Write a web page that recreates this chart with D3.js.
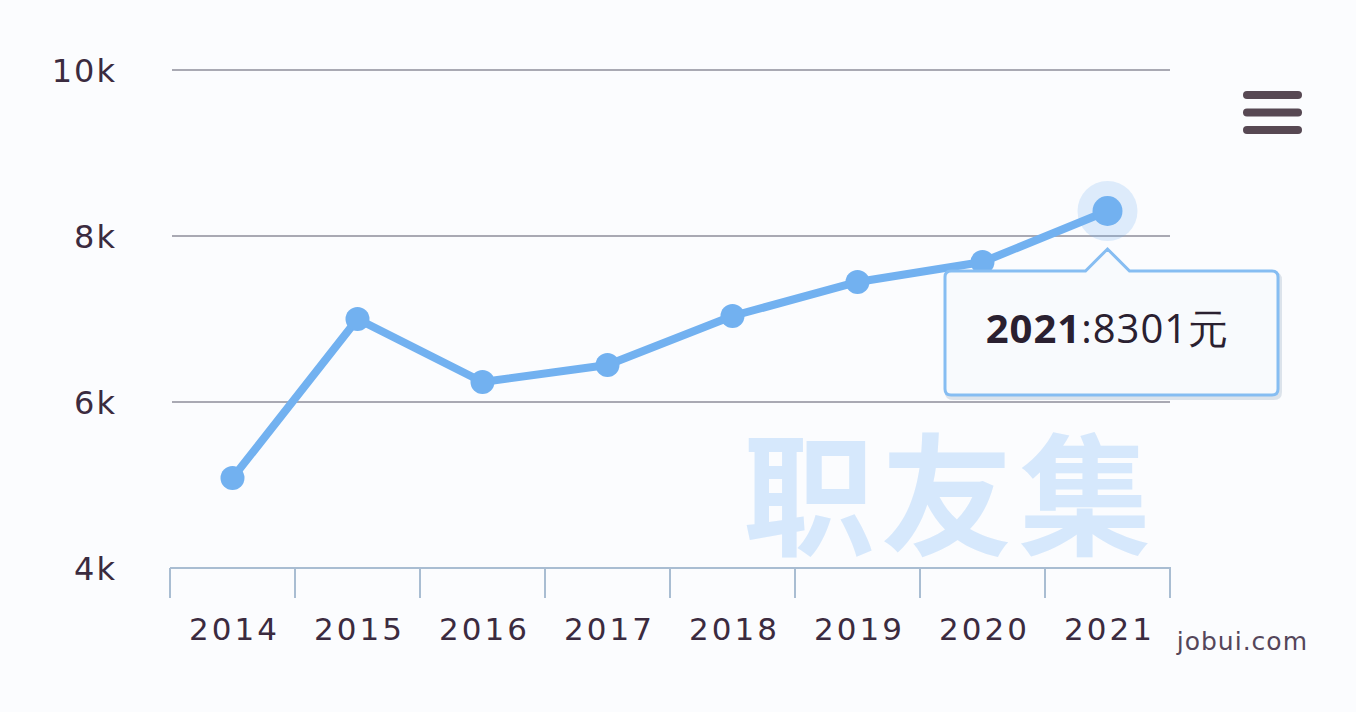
<!doctype html>
<html lang="zh">
<head>
  <meta charset="utf-8">
  <title>平均工资</title>
  <style>
    body { margin: 0; background: #fbfcfe; }
    svg { display: block; }
    .tick-label { font-family: "DejaVu Sans", Verdana, sans-serif; fill: #3b2b3f; }
  </style>
</head>
<body>
  <div id="chart"></div>
  <script src="https://cdn.jsdelivr.net/npm/d3@7"></script>
  <script>
  (function(){
    // data
    var years = ['2014', '2015', '2016', '2017', '2018', '2019', '2020', '2021'];
    var salary = [5084, 7000, 6241, 6446, 7036, 7446, 7687, 8301];
    var yTicks = [4000, 6000, 8000, 10000];
    var yTickLabels = ['4k', '6k', '8k', '10k'];

    var width = 1356, height = 712;
    var lineColor = '#72b1f0';

    var svg = d3.select('#chart').append('svg')
        .attr('width', width)
        .attr('height', height);

    svg.append('rect').attr('width', width).attr('height', height).attr('fill', '#fbfcfe');

    var x = d3.scaleBand().domain(years).range([170, 1170]);
    var y = d3.scaleLinear().domain([4000, 10000]).range([568, 70]);

    // watermark behind everything
    svg.append('text')
      .attr('x', 950).attr('y', 545)
      .attr('text-anchor', 'middle')
      .style('font-family', '"Noto Sans CJK SC", sans-serif')
      .style('font-weight', 'bold')
      .style('font-size', '132px')
      .style('letter-spacing', '6px')
      .attr('fill', '#d6e8fc')
      .text('职友集');

    // grid lines (skip the baseline, the axis draws that)
    svg.append('g').selectAll('line')
      .data(yTicks.slice(1))
      .enter().append('line')
      .attr('x1', 172).attr('x2', 1170)
      .attr('y1', function(d){ return y(d); })
      .attr('y2', function(d){ return y(d); })
      .attr('stroke', '#a9a9b3')
      .attr('stroke-width', 2);

    // y labels
    svg.append('g').selectAll('text')
      .data(yTicks)
      .enter().append('text')
      .attr('class', 'tick-label')
      .attr('x', 117)
      .attr('y', function(d){ return y(d); })
      .attr('dy', '0.36em')
      .attr('text-anchor', 'end')
      .style('font-size', '32px')
      .style('letter-spacing', '2px')
      .text(function(d, i){ return yTickLabels[i]; });

    // x axis: baseline + tick marks at band edges
    var xAxis = svg.append('g');
    xAxis.append('line')
      .attr('x1', 170).attr('x2', 1171)
      .attr('y1', y(4000)).attr('y2', y(4000))
      .attr('stroke', '#a9bdd2').attr('stroke-width', 2);
    var edges = years.map(function(d){ return x(d); }).concat([x.range()[1]]);
    xAxis.selectAll('.tick')
      .data(edges)
      .enter().append('line')
      .attr('x1', function(d){ return d; })
      .attr('x2', function(d){ return d; })
      .attr('y1', y(4000)).attr('y2', y(4000) + 30)
      .attr('stroke', '#a9bdd2').attr('stroke-width', 2);
    xAxis.selectAll('text')
      .data(years)
      .enter().append('text')
      .attr('class', 'tick-label')
      .attr('x', function(d){ return x(d) + x.bandwidth() / 2 + 2; })
      .attr('y', 640)
      .attr('text-anchor', 'middle')
      .style('font-size', '31px')
      .style('letter-spacing', '3px')
      .text(function(d){ return d; });

    // line
    var line = d3.line()
      .x(function(d, i){ return x(years[i]) + x.bandwidth() / 2; })
      .y(function(d){ return y(d); });

    svg.append('path')
      .datum(salary)
      .attr('d', line)
      .attr('fill', 'none')
      .attr('stroke', lineColor)
      .attr('stroke-width', 8)
      .attr('stroke-linejoin', 'round');

    // hover halo on last point
    var last = salary.length - 1;
    var lx = x(years[last]) + x.bandwidth() / 2, ly = y(salary[last]);
    svg.append('circle')
      .attr('cx', lx).attr('cy', ly).attr('r', 30)
      .attr('fill', lineColor).attr('opacity', 0.22);

    svg.append('g').selectAll('circle')
      .data(salary)
      .enter().append('circle')
      .attr('cx', function(d, i){ return x(years[i]) + x.bandwidth() / 2; })
      .attr('cy', function(d){ return y(d); })
      .attr('r', function(d, i){ return i === last ? 15 : 12; })
      .attr('fill', lineColor);

    // tooltip
    var tip = svg.append('g');
    var bx = 945, by = 271, bw = 333, bh = 124, r = 6;
    var tipPath = 'M' + (bx + r) + ',' + by +
      'H' + (lx - 22) + 'L' + lx + ',' + (by - 22) + 'L' + (lx + 22) + ',' + by +
      'H' + (bx + bw - r) + 'Q' + (bx + bw) + ',' + by + ' ' + (bx + bw) + ',' + (by + r) +
      'V' + (by + bh - r) + 'Q' + (bx + bw) + ',' + (by + bh) + ' ' + (bx + bw - r) + ',' + (by + bh) +
      'H' + (bx + r) + 'Q' + bx + ',' + (by + bh) + ' ' + bx + ',' + (by + bh - r) +
      'V' + (by + r) + 'Q' + bx + ',' + by + ' ' + (bx + r) + ',' + by + 'Z';
    tip.append('path')
      .attr('d', tipPath)
      .attr('transform', 'translate(2,3)')
      .attr('fill', 'none')
      .attr('stroke', '#c8d2de').attr('stroke-width', 4).attr('opacity', 0.6);
    tip.append('path')
      .attr('d', tipPath)
      .attr('fill', '#f8fafd')
      .attr('stroke', '#86bdf2').attr('stroke-width', 3);
    var tt = tip.append('text')
      .attr('x', bx + bw / 2 - 4).attr('y', 343)
      .attr('text-anchor', 'middle')
      .style('font-family', '"Open Sans", sans-serif')
      .style('font-size', '40px')
      .style('letter-spacing', '1px')
      .attr('fill', '#2a2030');
    tt.append('tspan').style('font-weight', 'bold').text(years[last]);
    tt.append('tspan').text(':' + salary[last] + '元');

    // menu icon
    svg.append('g').selectAll('rect')
      .data([0, 1, 2])
      .enter().append('rect')
      .attr('x', 1243).attr('y', function(d){ return 91 + d * 17.5; })
      .attr('width', 59).attr('height', 8).attr('rx', 4)
      .attr('fill', '#574853');

    // credit
    svg.append('text')
      .attr('x', 1308).attr('y', 650)
      .attr('text-anchor', 'end')
      .style('font-family', '"DejaVu Sans", sans-serif')
      .style('font-size', '25px')
      .style('letter-spacing', '1px')
      .attr('fill', '#55465a')
      .text('jobui.com');
  })();
  </script>
</body>
</html>
